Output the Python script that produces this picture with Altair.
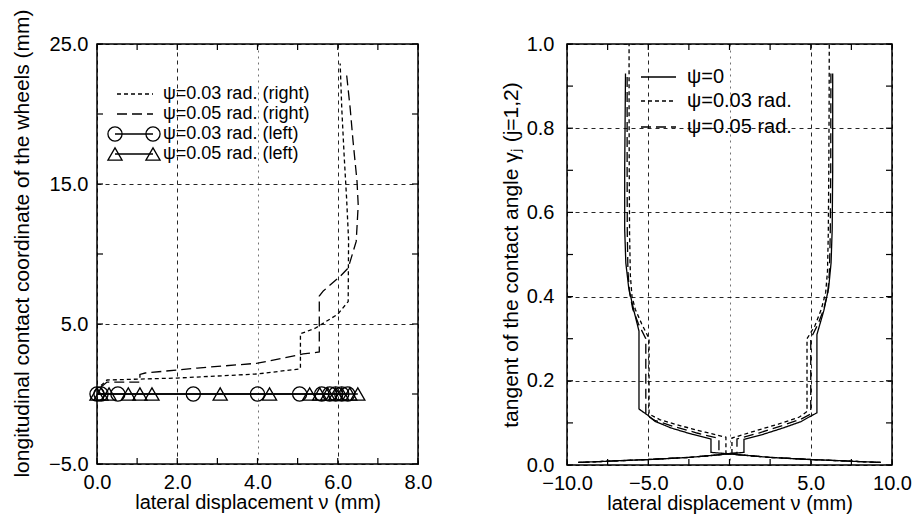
import altair as alt
import pandas as pd

FONT = "Liberation Sans"

# ---------------- left panel data ----------------
l03_x = [0.1, 0.25, 2.0, 4.0, 5.07, 5.07, 5.44, 5.81, 6.0, 6.26, 6.27, 6.22, 6.16, 6.1, 6.06]
l03_y = [0.6, 1.0, 1.14, 1.43, 1.8, 4.3, 4.7, 5.36, 5.7, 6.6, 11.0, 14.0, 17.0, 20.4, 23.6]
l05_x = [0.1, 0.25, 1.07, 1.07, 1.2, 2.5, 4.0, 5.14, 5.54, 5.54, 5.64, 6.06, 6.26, 6.46, 6.51, 6.48, 6.38, 6.31, 6.21]
l05_y = [0.5, 0.85, 0.85, 1.4, 1.5, 1.85, 2.2, 2.86, 3.0, 7.0, 7.36, 8.4, 9.0, 10.9, 13.5, 15.2, 18.1, 20.4, 23.1]
circ_x = [0.0, 0.1, 0.52, 2.4, 4.0, 5.05, 5.6, 5.8, 5.95, 6.1, 6.25]
circ_y = [0.0] * len(circ_x)
tri_x = [0.0, 0.1, 0.3, 0.78, 1.07, 1.37, 3.07, 4.3, 5.3, 5.55, 5.75, 5.95, 6.1, 6.3, 6.5]
tri_y = [0.0] * len(tri_x)

left_xlabels = [0, 2, 4, 6, 8]
left_xticks = [0, 1, 2, 3, 4, 5, 6, 7, 8]
left_ylabels = [-5, 5, 15, 25]
left_yticks = [-5, 0, 5, 10, 15, 20, 25]

# ---------------- right panel data ----------------
sA_x = [-9.3, -7.5, -5.0, -2.5, -1.0, 0.15, 0.15, 1.5, 3.0, 4.3, 4.77, 4.77, 5.25, 5.65, 5.92, 6.03, 6.08, 6.11, 6.13, 6.14]
sA_y = [0.006, 0.009, 0.013, 0.018, 0.023, 0.028, 0.064, 0.080, 0.097, 0.114, 0.127, 0.30, 0.33, 0.37, 0.41, 0.46, 0.55, 0.70, 0.85, 1.00]
sB_x = [9.3, 7.5, 5.0, 2.5, 1.0, -0.22, -0.22, -1.5, -3.0, -4.3, -4.95, -4.95, -5.4, -5.8, -6.0, -6.1, -6.15, -6.17, -6.18, -6.18]
sB_y = [0.006, 0.009, 0.013, 0.018, 0.023, 0.028, 0.066, 0.078, 0.093, 0.108, 0.121, 0.30, 0.335, 0.37, 0.40, 0.45, 0.55, 0.70, 0.85, 1.00]
dA_x = [-9.3, -7.5, -5.0, -2.5, -1.0, 0.46, 0.46, 1.8, 3.2, 4.4, 5.0, 5.0, 5.45, 5.8, 6.05, 6.15, 6.2, 6.23, 6.24]
dA_y = [0.006, 0.009, 0.013, 0.018, 0.023, 0.029, 0.062, 0.076, 0.093, 0.109, 0.121, 0.30, 0.335, 0.37, 0.41, 0.46, 0.55, 0.70, 0.93]
dB_x = [9.3, 7.5, 5.0, 2.5, 1.0, -0.65, -0.65, -2.0, -3.4, -4.6, -5.15, -5.15, -5.6, -5.95, -6.15, -6.25, -6.29, -6.3, -6.3]
dB_y = [0.006, 0.009, 0.013, 0.018, 0.023, 0.028, 0.063, 0.076, 0.091, 0.106, 0.119, 0.30, 0.335, 0.37, 0.41, 0.46, 0.55, 0.70, 0.93]
gA_x = [-9.3, -7.5, -5.0, -2.5, -1.0, 0.89, 0.89, 2.0, 3.3, 4.4, 4.9, 5.38, 5.38, 5.8, 6.1, 6.25, 6.32, 6.35, 6.35]
gA_y = [0.006, 0.009, 0.013, 0.018, 0.023, 0.030, 0.061, 0.072, 0.088, 0.103, 0.114, 0.124, 0.31, 0.366, 0.42, 0.48, 0.56, 0.70, 0.93]
gB_x = [9.3, 7.5, 5.0, 2.5, 1.0, -1.14, -1.14, -2.3, -3.6, -4.6, -4.95, -5.57, -5.57, -5.88, -6.2, -6.38, -6.45, -6.45, -6.4]
gB_y = [0.006, 0.009, 0.013, 0.018, 0.023, 0.030, 0.062, 0.073, 0.088, 0.104, 0.116, 0.133, 0.318, 0.366, 0.42, 0.48, 0.56, 0.70, 0.93]

right_xlabels = [-10, -5, 0, 5, 10]
right_xticks = [-10, -7.5, -5, -2.5, 0, 2.5, 5, 7.5, 10]
right_ylabels = [0.0, 0.2, 0.4, 0.6, 0.8, 1.0]
right_yticks = [0.0, 0.1, 0.2, 0.3, 0.4, 0.5, 0.6, 0.7, 0.8, 0.9, 1.0]

left_legend = ["ψ=0.03 rad. (right)", "ψ=0.05 rad. (right)", "ψ=0.03 rad. (left)", "ψ=0.05 rad. (left)"]
right_legend = ["ψ=0", "ψ=0.03 rad.", "ψ=0.05 rad."]

SHORT = [4, 3]
LONG = [10, 5]
SOLID = [1, 0]

LW, LH = 321, 420
RW, RH = 325, 421
MSIZE = 200


def mk_axis(values, title, title_pad, label_pad, title_size, light=None, **kw):
    grid_op = 0.85
    grid_dash = [4, 4]
    if light is not None:
        grid_op = {"condition": {"test": f"datum.value == {light}", "value": 0.55}, "value": 0.85}
        grid_dash = {"condition": {"test": f"datum.value == {light}", "value": [2, 4]}, "value": [4, 4]}
    return alt.Axis(values=values, format=".1f", labelFlush=False, labelOverlap=False,
                    ticks=False, domain=False, grid=True, gridDash=grid_dash,
                    gridColor="black", gridWidth=1, gridOpacity=grid_op,
                    labelFont=FONT, labelFontSize=20, labelColor="black", labelPadding=label_pad,
                    title=title, titleFont=FONT, titleFontSize=title_size, titleFontWeight="normal",
                    titleColor="black", titlePadding=title_pad, **kw)


def path_df(xs, ys, series, path):
    return pd.DataFrame({"x": xs, "y": ys, "s": series, "p": path, "o": list(range(len(xs)))})


def tick_layers(xticks, yticks, X, Y, W, H, tl=6):
    dx = pd.DataFrame({"x": xticks})
    dy = pd.DataFrame({"y": yticks})
    st = dict(color="black", strokeWidth=1.2)
    return [
        alt.Chart(dx).mark_rule(**st).encode(x=X, y=alt.value(H), y2=alt.value(H - tl)),
        alt.Chart(dx).mark_rule(**st).encode(x=X, y=alt.value(0), y2=alt.value(tl)),
        alt.Chart(dy).mark_rule(**st).encode(y=Y, x=alt.value(0), x2=alt.value(tl)),
        alt.Chart(dy).mark_rule(**st).encode(y=Y, x=alt.value(W), x2=alt.value(W - tl)),
    ]


def one():
    return pd.DataFrame({"a": [0]})


def leg_line(x1, x2, y, dash):
    return alt.Chart(one()).mark_rule(color="black", strokeWidth=1.3, strokeDash=dash).encode(
        x=alt.value(x1), x2=alt.value(x2), y=alt.value(y))


def leg_text(x, y, label, size):
    return alt.Chart(pd.DataFrame({"t": [label]})).mark_text(
        align="left", baseline="middle", font=FONT, fontSize=size, color="black").encode(
        x=alt.value(x), y=alt.value(y), text="t:N")


def leg_point(x, y, shape):
    return alt.Chart(one()).mark_point(shape=shape, filled=False, size=MSIZE, color="black",
                                       strokeWidth=1.3, opacity=1).encode(x=alt.value(x), y=alt.value(y))


# ---------------- left chart ----------------
lxs = alt.Scale(domain=[0, 8], nice=False, zero=False)
lys = alt.Scale(domain=[-5, 25], nice=False, zero=False)
LX = alt.X("x:Q", scale=lxs, axis=mk_axis(left_xlabels, "lateral displacement ν (mm)", 0, 8, 20, light=4))
LY = alt.Y("y:Q", scale=lys, axis=mk_axis(left_ylabels, "longitudinal contact coordinate of the wheels (mm)",
                                          16, 9, 21, titleY=199))

ldf = pd.concat([
    path_df(l03_x, l03_y, "r03", "r03"),
    path_df(l05_x, l05_y, "r05", "r05"),
    path_df(circ_x, circ_y, "lc", "lc"),
    path_df(tri_x, tri_y, "lt", "lt"),
])
left_lines = alt.Chart(ldf).mark_line(color="black", strokeWidth=1.3).encode(
    x=LX, y=LY, detail="p:N", order="o:Q",
    strokeDash=alt.StrokeDash("s:N", scale=alt.Scale(domain=["r03", "r05", "lc", "lt"],
                                                      range=[SHORT, LONG, SOLID, SOLID]), legend=None))
circ = alt.Chart(pd.DataFrame({"x": circ_x, "y": circ_y})).mark_point(
    shape="circle", filled=False, size=MSIZE, color="black", strokeWidth=1.3, opacity=1).encode(x=LX, y=LY)
tri = alt.Chart(pd.DataFrame({"x": tri_x, "y": tri_y})).mark_point(
    shape="triangle-up", filled=False, size=MSIZE, color="black", strokeWidth=1.3, opacity=1).encode(x=LX, y=LY)

left_layers = [left_lines, circ, tri] + tick_layers(left_xticks, left_yticks, LX, LY, LW, LH) + [
    leg_line(20, 56, 50, SHORT), leg_text(66, 50, left_legend[0], 18),
    leg_line(20, 56, 70, LONG), leg_text(66, 70, left_legend[1], 18),
    leg_line(18, 56, 90, SOLID), leg_point(18, 90, "circle"), leg_point(56, 90, "circle"),
    leg_text(66, 90, left_legend[2], 18),
    leg_line(18, 56, 110, SOLID), leg_point(18, 110, "triangle-up"), leg_point(56, 110, "triangle-up"),
    leg_text(66, 110, left_legend[3], 18),
]
left = alt.layer(*left_layers).properties(width=LW, height=LH)

# ---------------- right chart ----------------
rxs = alt.Scale(domain=[-10, 10], nice=False, zero=False)
rys = alt.Scale(domain=[0, 1], nice=False, zero=False)
RX = alt.X("x:Q", scale=rxs, axis=mk_axis(right_xlabels, "lateral displacement  ν (mm)", 0, 8, 20, light=0))
RY = alt.Y("y:Q", scale=rys, axis=mk_axis(right_ylabels, "tangent of the contact angle γⱼ (j=1,2)", 5, 13, 21))

rdf = pd.concat([
    path_df(sA_x, sA_y, "p0", "sA"), path_df(sB_x, sB_y, "p0", "sB"),
    path_df(dA_x, dA_y, "p3", "dA"), path_df(dB_x, dB_y, "p3", "dB"),
    path_df(gA_x, gA_y, "p5", "gA"), path_df(gB_x, gB_y, "p5", "gB"),
])
right_lines = alt.Chart(rdf).mark_line(color="black", strokeWidth=1.3).encode(
    x=RX, y=RY, detail="p:N", order="o:Q",
    strokeDash=alt.StrokeDash("s:N", scale=alt.Scale(domain=["p0", "p3", "p5"],
                                                      range=[SOLID, SHORT, LONG]), legend=None))

right_layers = [right_lines] + tick_layers(right_xticks, right_yticks, RX, RY, RW, RH) + [
    leg_line(74, 109, 33, SOLID), leg_text(120, 33, right_legend[0], 20),
    leg_line(74, 109, 57, SHORT), leg_text(120, 57, right_legend[1], 20),
    leg_line(74, 109, 83, LONG), leg_text(120, 83, right_legend[2], 20),
]
right = alt.layer(*right_layers).properties(width=RW, height=RH)

chart = alt.hconcat(left, right, spacing=66).configure_view(
    stroke="black", strokeWidth=1.5).properties(
    padding={"left": 2, "top": 0, "right": 0, "bottom": 0}, background="white")

chart.save("out.html", embed_options={"renderer": "svg", "actions": False})
